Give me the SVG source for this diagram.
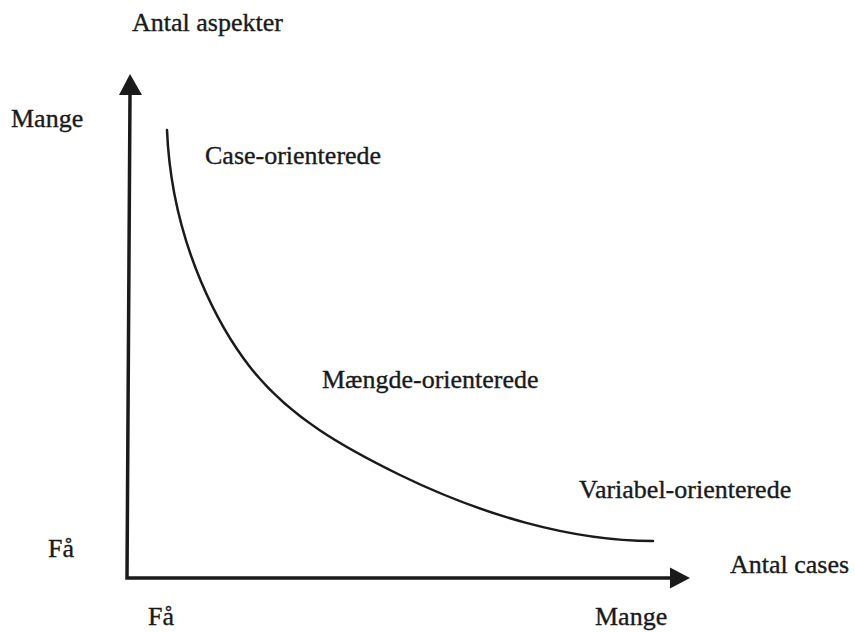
<svg xmlns="http://www.w3.org/2000/svg" width="855" height="632" viewBox="0 0 855 632">
<style>
text{font-family:"Liberation Serif","Times New Roman",serif;font-size:26px;fill:#1a1a1a;stroke:#1a1a1a;stroke-width:0.35}
.axis{stroke:#1a1a1a;stroke-width:3.5;fill:none}
.curve{stroke:#1a1a1a;stroke-width:2.5;fill:none;stroke-linecap:round}
.head{fill:#1a1a1a}
</style>
<rect width="855" height="632" fill="#ffffff"/>
<g id="connectors">
<path class="axis" d="M130,94 L127,578 L672,578"/>
<polygon class="head" points="130,74 119,95 142,95"/>
<polygon class="head" points="690,578 670,567.5 670,588.5"/>
<path class="curve" d="M167,130 C172,250 225,335 250,367 C290,418 345,448 400,475 C480,514 570,541 653,541"/>
</g>
<g id="y-axis-label"><text x="132" y="31">Antal aspekter</text></g>
<g id="y-high"><text x="11" y="127">Mange</text></g>
<g id="y-low"><text x="48" y="557">Få</text></g>
<g id="x-axis-label"><text x="730" y="573">Antal cases</text></g>
<g id="x-low"><text x="148" y="625">Få</text></g>
<g id="x-high"><text x="595" y="625">Mange</text></g>
<g id="case-orienterede"><text x="205" y="164">Case-orienterede</text></g>
<g id="maengde-orienterede"><text x="322" y="388">Mængde-orienterede</text></g>
<g id="variabel-orienterede"><text x="579" y="498">Variabel-orienterede</text></g>
</svg>
